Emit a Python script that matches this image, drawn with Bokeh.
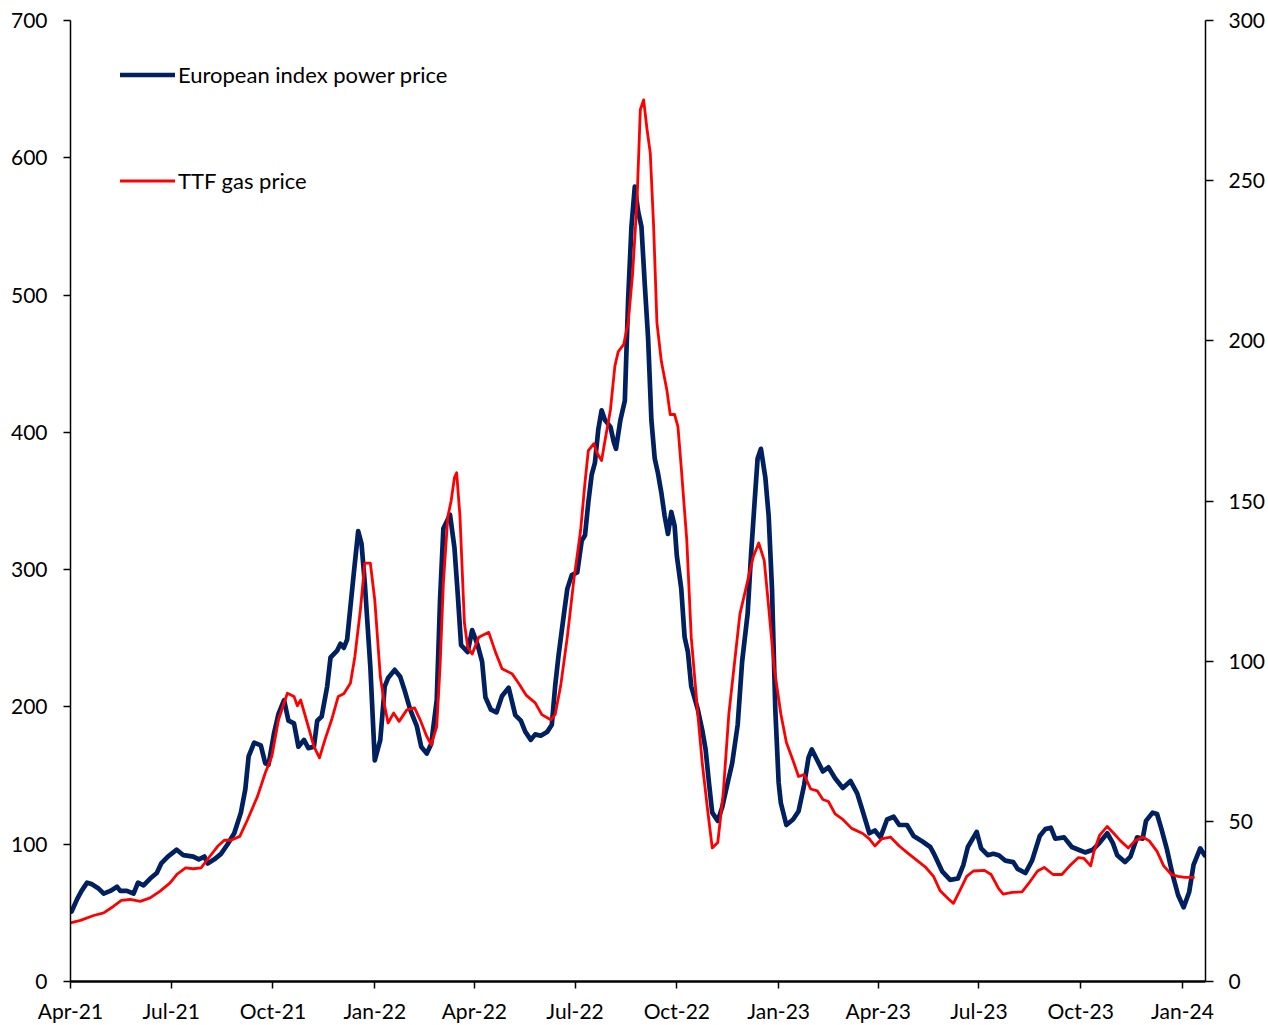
import pandas as pd
from datetime import datetime
from bokeh.plotting import figure
from bokeh.models import (Range1d, LinearAxis, FixedTicker, DatetimeTickFormatter,
                          Legend, LegendItem, ColumnDataSource)
from bokeh.embed import file_html
from bokeh.resources import INLINE

power_dates = [
    "2021-04-02", "2021-04-07", "2021-04-11", "2021-04-16", "2021-04-20", "2021-04-26",
    "2021-05-01", "2021-05-07", "2021-05-13", "2021-05-16", "2021-05-22", "2021-05-28",
    "2021-06-01", "2021-06-06", "2021-06-12", "2021-06-18", "2021-06-22", "2021-06-28",
    "2021-07-06", "2021-07-12", "2021-07-21", "2021-07-26", "2021-07-31", "2021-08-03",
    "2021-08-09", "2021-08-15", "2021-08-21", "2021-08-27", "2021-09-02", "2021-09-06",
    "2021-09-09", "2021-09-14", "2021-09-20", "2021-09-24", "2021-09-27", "2021-10-02",
    "2021-10-06", "2021-10-11", "2021-10-15", "2021-10-20", "2021-10-24", "2021-10-29",
    "2021-11-02", "2021-11-07", "2021-11-10", "2021-11-14", "2021-11-19", "2021-11-22",
    "2021-11-28", "2021-12-01", "2021-12-04", "2021-12-07", "2021-12-10", "2021-12-13",
    "2021-12-17", "2021-12-20", "2021-12-23", "2021-12-28", "2022-01-01", "2022-01-06",
    "2022-01-10", "2022-01-13", "2022-01-19", "2022-01-24", "2022-01-28", "2022-02-02",
    "2022-02-08", "2022-02-12", "2022-02-17", "2022-02-21", "2022-02-26", "2022-03-01",
    "2022-03-04", "2022-03-10", "2022-03-14", "2022-03-17", "2022-03-20", "2022-03-26",
    "2022-03-30", "2022-04-04", "2022-04-08", "2022-04-11", "2022-04-16", "2022-04-21",
    "2022-04-26", "2022-05-02", "2022-05-08", "2022-05-13", "2022-05-17", "2022-05-22",
    "2022-05-26", "2022-05-31", "2022-06-06", "2022-06-10", "2022-06-13", "2022-06-16",
    "2022-06-21", "2022-06-24", "2022-06-28", "2022-07-03", "2022-07-07", "2022-07-10",
    "2022-07-13", "2022-07-16", "2022-07-19", "2022-07-22", "2022-07-25", "2022-07-28",
    "2022-08-02", "2022-08-05", "2022-08-07", "2022-08-11", "2022-08-15", "2022-08-18",
    "2022-08-21", "2022-08-24", "2022-08-27", "2022-08-30", "2022-09-02", "2022-09-05",
    "2022-09-08", "2022-09-11", "2022-09-14", "2022-09-17", "2022-09-20", "2022-09-23",
    "2022-09-26", "2022-09-29", "2022-10-01", "2022-10-05", "2022-10-08", "2022-10-11",
    "2022-10-14", "2022-10-20", "2022-10-24", "2022-10-27", "2022-10-30", "2022-11-02",
    "2022-11-07", "2022-11-11", "2022-11-16", "2022-11-20", "2022-11-25", "2022-11-29",
    "2022-12-04", "2022-12-07", "2022-12-10", "2022-12-13", "2022-12-16", "2022-12-20",
    "2022-12-23", "2022-12-26", "2022-12-29", "2023-01-01", "2023-01-03", "2023-01-08",
    "2023-01-14", "2023-01-19", "2023-01-24", "2023-01-28", "2023-01-31", "2023-02-05",
    "2023-02-10", "2023-02-15", "2023-02-21", "2023-02-28", "2023-03-07", "2023-03-13",
    "2023-03-18", "2023-03-24", "2023-03-29", "2023-04-03", "2023-04-09", "2023-04-15",
    "2023-04-20", "2023-04-27", "2023-05-03", "2023-05-11", "2023-05-18", "2023-05-22",
    "2023-05-29", "2023-06-05", "2023-06-12", "2023-06-17", "2023-06-21", "2023-06-29",
    "2023-07-03", "2023-07-09", "2023-07-14", "2023-07-19", "2023-07-25", "2023-08-01",
    "2023-08-05", "2023-08-12", "2023-08-18", "2023-08-25", "2023-08-30", "2023-09-04",
    "2023-09-08", "2023-09-16", "2023-09-23", "2023-09-29", "2023-10-05", "2023-10-12",
    "2023-10-18", "2023-10-25", "2023-10-30", "2023-11-03", "2023-11-10", "2023-11-15",
    "2023-11-21", "2023-11-26", "2023-11-29", "2023-12-05", "2023-12-09", "2023-12-13",
    "2023-12-18", "2023-12-23", "2023-12-28", "2024-01-02", "2024-01-07", "2024-01-11",
    "2024-01-17", "2024-01-21",
]
power_values = [
    51, 60, 66, 72, 71, 68,
    64, 66, 69, 66, 66, 64,
    72, 70, 75, 79, 86, 91,
    96, 92, 91, 89, 91, 86,
    89, 93, 100, 108, 123, 140,
    164, 174, 172, 159, 158, 181,
    195, 205, 190, 188, 171, 176,
    170, 171, 190, 193, 215, 236,
    241, 246, 243, 249, 273, 297,
    328, 319, 290, 229, 161, 176,
    215, 221, 227, 222, 212, 198,
    186, 171, 166, 173, 205, 278,
    330, 340, 316, 282, 245, 240,
    256, 245, 233, 207, 198, 196,
    208, 214, 194, 190, 182, 176,
    180, 179, 182, 187, 215, 237,
    268, 286, 296, 298, 321, 325,
    349, 369, 378, 402, 416, 409,
    404, 393, 388, 409, 423, 497,
    550, 579, 561, 550, 508, 469,
    409, 381, 370, 356, 339, 326,
    342, 332, 310, 286, 251, 240,
    215, 198, 183, 169, 145, 123,
    117, 127, 145, 159, 187, 233,
    268, 310, 346, 381, 388, 367,
    339, 286, 198, 145, 130, 114,
    118, 124, 143, 163, 169, 161,
    153, 156, 148, 141, 146, 137,
    124, 108, 110, 105, 118, 120,
    114, 114, 106, 102, 98, 92,
    80, 74, 75, 85, 98, 109,
    97, 92, 93, 92, 88, 87,
    82, 79, 88, 106, 111, 112,
    104, 105, 98, 96, 94, 96,
    101, 108, 101, 92, 87, 91,
    105, 104, 117, 123, 122, 111,
    96, 78, 63, 54, 65, 85,
    97, 92,
]

gas_dates = [
    "2021-04-01", "2021-04-10", "2021-04-22", "2021-05-01", "2021-05-10", "2021-05-17",
    "2021-05-25", "2021-06-03", "2021-06-12", "2021-06-21", "2021-06-30", "2021-07-06",
    "2021-07-14", "2021-07-21", "2021-07-28", "2021-08-05", "2021-08-12", "2021-08-18",
    "2021-08-24", "2021-09-01", "2021-09-08", "2021-09-17", "2021-09-24", "2021-09-30",
    "2021-10-06", "2021-10-14", "2021-10-20", "2021-10-23", "2021-10-26", "2021-11-01",
    "2021-11-07", "2021-11-12", "2021-11-17", "2021-11-23", "2021-11-29", "2021-12-04",
    "2021-12-10", "2021-12-14", "2021-12-19", "2021-12-23", "2021-12-28", "2022-01-01",
    "2022-01-06", "2022-01-10", "2022-01-13", "2022-01-18", "2022-01-23", "2022-01-30",
    "2022-02-06", "2022-02-11", "2022-02-17", "2022-02-21", "2022-02-26", "2022-03-01",
    "2022-03-04", "2022-03-08", "2022-03-11", "2022-03-14", "2022-03-16", "2022-03-19",
    "2022-03-23", "2022-03-26", "2022-03-30", "2022-04-05", "2022-04-14", "2022-04-20",
    "2022-04-26", "2022-05-05", "2022-05-11", "2022-05-18", "2022-05-26", "2022-06-01",
    "2022-06-09", "2022-06-13", "2022-06-18", "2022-06-24", "2022-06-30", "2022-07-06",
    "2022-07-10", "2022-07-13", "2022-07-18", "2022-07-21", "2022-07-25", "2022-07-28",
    "2022-08-02", "2022-08-06", "2022-08-09", "2022-08-14", "2022-08-18", "2022-08-22",
    "2022-08-26", "2022-08-29", "2022-09-01", "2022-09-04", "2022-09-07", "2022-09-10",
    "2022-09-13", "2022-09-17", "2022-09-22", "2022-09-25", "2022-09-29", "2022-10-02",
    "2022-10-05", "2022-10-10", "2022-10-14", "2022-10-20", "2022-10-24", "2022-10-29",
    "2022-11-02", "2022-11-07", "2022-11-12", "2022-11-17", "2022-11-22", "2022-11-27",
    "2022-12-03", "2022-12-09", "2022-12-14", "2022-12-19", "2022-12-23", "2022-12-28",
    "2023-01-03", "2023-01-08", "2023-01-14", "2023-01-19", "2023-01-24", "2023-01-30",
    "2023-02-05", "2023-02-10", "2023-02-15", "2023-02-21", "2023-02-28", "2023-03-08",
    "2023-03-18", "2023-03-24", "2023-03-29", "2023-04-04", "2023-04-12", "2023-04-20",
    "2023-04-28", "2023-05-06", "2023-05-14", "2023-05-21", "2023-05-27", "2023-06-04",
    "2023-06-08", "2023-06-13", "2023-06-20", "2023-06-26", "2023-07-06", "2023-07-12",
    "2023-07-19", "2023-07-23", "2023-07-31", "2023-08-09", "2023-08-15", "2023-08-23",
    "2023-08-29", "2023-09-06", "2023-09-14", "2023-09-21", "2023-09-29", "2023-10-04",
    "2023-10-10", "2023-10-13", "2023-10-18", "2023-10-25", "2023-10-31", "2023-11-06",
    "2023-11-13", "2023-11-19", "2023-11-26", "2023-12-02", "2023-12-09", "2023-12-15",
    "2023-12-22", "2023-12-28", "2024-01-03", "2024-01-11",
]
gas_values = [
    18.3, 19.1, 20.6, 21.4, 23.5, 25.3,
    25.6, 25.0, 26.1, 28.2, 30.8, 33.4,
    35.5, 35.2, 35.5, 39.1, 42.2, 44.1,
    44.1, 45.3, 50.5, 57.8, 65.1, 70.3,
    81.7, 90.0, 89.0, 86.1, 87.9, 80.7,
    73.4, 69.8, 75.5, 81.7, 89.0, 89.8,
    93.1, 101.4, 116.0, 130.6, 130.6, 119.1,
    95.2, 85.9, 80.7, 83.8, 81.2, 84.8,
    85.4, 81.7, 76.5, 73.9, 79.6, 98.3,
    124.3, 145.1, 150.0, 157.3, 158.8, 145.2,
    112.0, 104.4, 102.2, 107.5, 109.0, 102.9,
    97.6, 96.1, 93.1, 89.3, 87.0, 83.3,
    81.7, 83.3, 92.3, 107.5, 125.6, 140.7,
    155.8, 165.7, 167.9, 164.9, 162.6, 168.7,
    178.5, 192.1, 196.6, 198.9, 205.7, 220.8,
    243.5, 272.2, 275.2, 266.2, 258.6, 235.9,
    205.7, 193.6, 184.6, 177.0, 177.0, 173.2,
    160.4, 137.7, 107.5, 83.3, 68.1, 53.0,
    41.7, 43.4, 59.0, 83.5, 99.1, 114.7,
    123.6, 132.5, 136.9, 131.4, 116.9, 97.9,
    83.5, 74.6, 69.0, 64.0, 64.6, 60.1,
    59.5, 56.8, 56.2, 52.3, 50.6, 47.8,
    46.2, 44.5, 42.3, 44.5, 45.1, 42.3,
    40.0, 37.8, 35.6, 32.8, 28.3, 25.6,
    24.4, 27.8, 32.8, 34.5, 34.7, 33.4,
    28.9, 27.3, 27.8, 28.0, 30.6, 34.5,
    35.6, 33.4, 33.4, 36.1, 38.7, 38.4,
    36.1, 40.6, 45.6, 48.4, 46.2, 43.9,
    41.7, 43.9, 45.1, 43.9, 40.6, 36.1,
    33.4, 32.8, 32.5, 32.5,
]

x_tick_dates = ["2021-04-01", "2021-07-01", "2021-10-01", "2022-01-01", "2022-04-01",
                "2022-07-01", "2022-10-01", "2023-01-01", "2023-04-01", "2023-07-01",
                "2023-10-01", "2024-01-01"]
left_ticks = [0, 100, 200, 300, 400, 500, 600, 700]
right_ticks = [0, 50, 100, 150, 200, 250, 300]
series_names = ["European index power price", "TTF gas price"]
series_colors = ["#002060", "#FF0000"]

FONT = "Lato"
TXT = "#000000"

power_src = ColumnDataSource(dict(x=pd.to_datetime(power_dates), y=power_values))
gas_src = ColumnDataSource(dict(x=pd.to_datetime(gas_dates), y=gas_values))

p = figure(
    width=1268, height=1025,
    x_axis_type="datetime",
    x_range=Range1d(datetime(2021, 4, 1), datetime(2024, 1, 21, 19)),
    y_range=Range1d(0, 700),
    output_backend="svg", toolbar_location=None,
    min_border_left=70, min_border_right=63, min_border_top=20, min_border_bottom=43,
)
p.outline_line_color = None
p.xgrid.visible = False
p.ygrid.visible = False
p.background_fill_color = "white"
p.border_fill_color = "white"

p.extra_y_ranges = {"gas": Range1d(0, 300)}

r_power = p.line("x", "y", source=power_src, line_color=series_colors[0], line_width=4.7,
                 line_join="round", line_cap="round")
r_gas = p.line("x", "y", source=gas_src, line_color=series_colors[1], line_width=2.8,
               line_join="round", line_cap="round", y_range_name="gas")

# x axis
xa = p.xaxis[0]
xa.ticker = FixedTicker(ticks=[pd.Timestamp(d).value / 1e6 for d in x_tick_dates])
xa.formatter = DatetimeTickFormatter(days="%b-%y", months="%b-%y", years="%b-%y")
xa.axis_line_width = 2.5
xa.axis_line_color = "black"
xa.major_tick_out = 7
xa.major_tick_in = 0
xa.major_tick_line_width = 1.5
xa.major_tick_line_color = "black"
xa.minor_tick_out = 0
xa.minor_tick_in = 0
xa.major_label_standoff = 9
xa.major_label_text_font = FONT
xa.major_label_text_font_size = "21px"
xa.major_label_text_color = TXT

# left axis
ya = p.yaxis[0]
ya.ticker = FixedTicker(ticks=left_ticks)
ya.axis_line_width = 1.5
ya.axis_line_color = "black"
ya.major_tick_out = 7
ya.major_tick_in = 0
ya.major_tick_line_width = 1.5
ya.minor_tick_out = 0
ya.minor_tick_in = 0
ya.major_label_standoff = 16
ya.major_label_text_font = FONT
ya.major_label_text_font_size = "21px"
ya.major_label_text_color = TXT

# right axis
ra = LinearAxis(y_range_name="gas", ticker=FixedTicker(ticks=right_ticks))
ra.axis_line_width = 1.5
ra.axis_line_color = "black"
ra.major_tick_out = 8
ra.major_tick_in = 0
ra.major_tick_line_width = 1.5
ra.minor_tick_out = 0
ra.minor_tick_in = 0
ra.major_label_standoff = 15
ra.major_label_text_font = FONT
ra.major_label_text_font_size = "21px"
ra.major_label_text_color = TXT
p.add_layout(ra, "right")

legend = Legend(
    items=[LegendItem(label=series_names[0], renderers=[r_power]),
           LegendItem(label=series_names[1], renderers=[r_gas])],
    location=(50, 787),
    orientation="vertical",
    glyph_width=55, glyph_height=27,
    label_height=27, label_standoff=3,
    spacing=79, padding=0, margin=0,
    border_line_alpha=0, background_fill_alpha=0,
    label_text_font=FONT, label_text_font_size="22px", label_text_color=TXT,
)
p.add_layout(legend, "center")

open("out.html", "w").write(file_html(p, INLINE))
